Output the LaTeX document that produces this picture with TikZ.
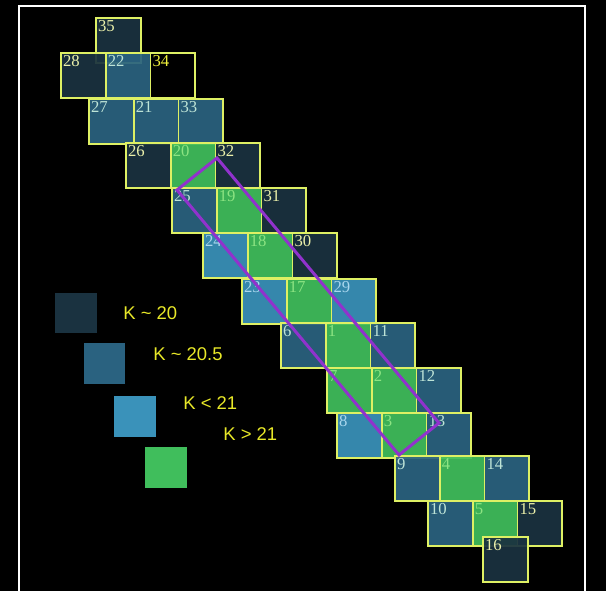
\documentclass[tikz,border=0pt]{standalone}
\usepackage{fontspec}
\setmainfont{Liberation Serif}
\newfontfamily\keyfont{Liberation Sans}
\usetikzlibrary{positioning}
\definecolor{kDark}{RGB}{26,50,64}
\definecolor{kMid}{RGB}{42,98,128}
\definecolor{kLight}{RGB}{58,146,186}
\definecolor{kGreen}{RGB}{64,190,92}
\definecolor{edgeYellow}{RGB}{222,240,100}
\definecolor{numDark}{RGB}{235,240,170}
\definecolor{numMid}{RGB}{190,228,215}
\definecolor{numLight}{RGB}{170,215,238}
\definecolor{numGreen}{RGB}{140,228,130}
\definecolor{numEmpty}{RGB}{240,240,60}
\definecolor{keyYellow}{RGB}{232,232,40}
\definecolor{selPurple}{RGB}{145,50,205}
\tikzset{
    cell/.style={
        rectangle,
        draw=edgeYellow,
        line width=1.1pt,
        minimum size=0.895cm,
        inner sep=0pt,
        outer sep=0pt,
        fill opacity=0.93
    },
    numlabel/.style={anchor=north west, inner sep=1pt, text opacity=1, font=\fontsize{9.5}{10}\selectfont},
    darkcell/.style={cell, fill=kDark, label={[numlabel, text=numDark]north west:#1}},
    midcell/.style={cell, fill=kMid, label={[numlabel, text=numMid]north west:#1}},
    lightcell/.style={cell, fill=kLight, label={[numlabel, text=numLight]north west:#1}},
    greencell/.style={cell, fill=kGreen, label={[numlabel, text=numGreen]north west:#1}},
    emptycell/.style={cell, fill=black, label={[numlabel, text=numEmpty]north west:#1}},
    keybox/.style={rectangle, minimum width=0.84cm, minimum height=0.82cm, inner sep=0pt},
    keytext/.style={anchor=west, inner sep=0pt, text=keyYellow, font=\keyfont\fontsize{10.5}{12}\selectfont},
    selbox/.style={draw=selPurple, line width=1.7pt}
}
\begin{document}
\begin{tikzpicture}[x=0.02cm, y=-0.02cm]
    \useasboundingbox (0,0) rectangle (606,591);
    \fill[black] (0,0) rectangle (606,591);
    \draw[white, line width=1.4pt] (19,591) -- (19,6) -- (585,6) -- (585,591);
    % pointings, row by row
    \node[darkcell=35, anchor=north west] (c35) at (96,18) {};
    \node[darkcell=28, anchor=north west] (c28) at (61,53) {};
    \node[midcell=22, right=0pt of c28] (c22) {};
    \node[emptycell=34, right=0pt of c22] (c34) {};
    \node[midcell=27, anchor=north west] (c27) at (89,99) {};
    \node[midcell=21, right=0pt of c27] (c21) {};
    \node[midcell=33, right=0pt of c21] (c33) {};
    \node[darkcell=26, anchor=north west] (c26) at (126,143) {};
    \node[greencell=20, right=0pt of c26] (c20) {};
    \node[darkcell=32, right=0pt of c20] (c32) {};
    \node[midcell=25, anchor=north west] (c25) at (172,188) {};
    \node[greencell=19, right=0pt of c25] (c19) {};
    \node[darkcell=31, right=0pt of c19] (c31) {};
    \node[lightcell=24, anchor=north west] (c24) at (203,233) {};
    \node[greencell=18, right=0pt of c24] (c18) {};
    \node[darkcell=30, right=0pt of c18] (c30) {};
    \node[lightcell=23, anchor=north west] (c23) at (242,279) {};
    \node[greencell=17, right=0pt of c23] (c17) {};
    \node[lightcell=29, right=0pt of c17] (c29) {};
    \node[midcell=6, anchor=north west] (c6) at (281,323) {};
    \node[greencell=1, right=0pt of c6] (c1) {};
    \node[midcell=11, right=0pt of c1] (c11) {};
    \node[greencell=7, anchor=north west] (c7) at (327,368) {};
    \node[greencell=2, right=0pt of c7] (c2) {};
    \node[midcell=12, right=0pt of c2] (c12) {};
    \node[lightcell=8, anchor=north west] (c8) at (337,413) {};
    \node[greencell=3, right=0pt of c8] (c3) {};
    \node[midcell=13, right=0pt of c3] (c13) {};
    \node[midcell=9, anchor=north west] (c9) at (395,456) {};
    \node[greencell=4, right=0pt of c9] (c4) {};
    \node[midcell=14, right=0pt of c4] (c14) {};
    \node[midcell=10, anchor=north west] (c10) at (428,501) {};
    \node[greencell=5, right=0pt of c10] (c5) {};
    \node[darkcell=15, right=0pt of c5] (c15) {};
    \node[darkcell=16, anchor=north west] (c16) at (483,537) {};
    % selection box
    \coordinate (selTop) at (217,158);
    \coordinate (selLeft) at (177,190);
    \coordinate (selBottom) at (399,455);
    \coordinate (selRight) at (439,423);
    \draw[selbox] (selTop) -- (selLeft) -- (selBottom) -- (selRight) -- cycle;
    % key
    \node[keybox, fill=kDark] (keyA) at (76,313) {};
    \node[keybox, fill=kMid] (keyB) at (104.5,363.5) {};
    \node[keybox, fill=kLight] (keyC) at (135,416.5) {};
    \node[keybox, fill=kGreen] (keyD) at (166,467.5) {};
    \node[keytext] (txtA) at (123,313) {K \textasciitilde\ 20};
    \node[keytext] (txtB) at (153,354) {K \textasciitilde\ 20.5};
    \node[keytext] (txtC) at (183,403) {K < 21};
    \node[keytext] (txtD) at (223,434) {K > 21};
\end{tikzpicture}
\end{document}
